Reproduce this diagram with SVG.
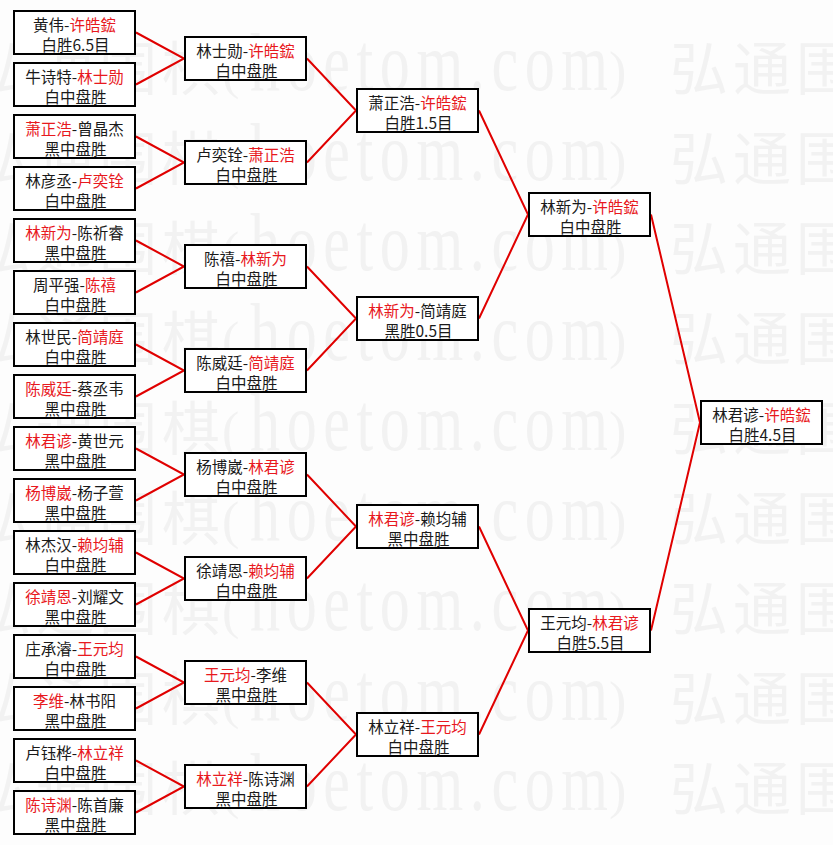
<svg xmlns="http://www.w3.org/2000/svg" xmlns:xlink="http://www.w3.org/1999/xlink" width="833" height="845" viewBox="0 0 833 845">
<style>
.b{fill:#fff;stroke:#000;stroke-width:2}
.t{font-family:"Noto Sans CJK SC","Noto Sans",sans-serif;font-size:15.5px;fill:#1a1a1a;text-anchor:middle}
.r{fill:#e8191e}
.c{stroke:#e00000;stroke-width:2;fill:none}
.wc{font-family:"Noto Sans CJK SC",sans-serif;font-size:58px;letter-spacing:5px;fill:#f2f2f2}
.wl{font-family:"Liberation Serif",serif;font-size:60px;fill:#f2f2f2}
.wp{font-family:"Liberation Serif",serif;font-size:52px;fill:#f2f2f2}
</style>
<defs>
<g id="wm">
<text class="wc" x="-27" y="0">弘通围棋</text>
<text class="wp" x="222" y="-2">(</text>
<text class="wl" transform="scale(1,1.38)" x="250" y="0" textLength="358" lengthAdjust="spacing">hoetom.com</text>
<text class="wp" x="609" y="-2">)</text>
<text class="wc" x="670" y="0">弘通围棋</text>
</g>
</defs>
<rect x="0" y="0" width="833" height="845" fill="#fdfdfd"/>
<g id="watermark">
<use xlink:href="#wm" href="#wm" y="90"/>
<use xlink:href="#wm" href="#wm" y="180"/>
<use xlink:href="#wm" href="#wm" y="270"/>
<use xlink:href="#wm" href="#wm" y="360"/>
<use xlink:href="#wm" href="#wm" y="450"/>
<use xlink:href="#wm" href="#wm" y="540"/>
<use xlink:href="#wm" href="#wm" y="630"/>
<use xlink:href="#wm" href="#wm" y="720"/>
<use xlink:href="#wm" href="#wm" y="810"/>
</g>
<g id="connectors">
<path class="c" d="M136 32.5L184 58.5L136 84.5"/>
<path class="c" d="M136 136.5L184 162.5L136 188.5"/>
<path class="c" d="M136 240.5L184 266.5L136 292.5"/>
<path class="c" d="M136 344.5L184 370.5L136 396.5"/>
<path class="c" d="M136 448.5L184 474.5L136 500.5"/>
<path class="c" d="M136 552.5L184 578.5L136 604.5"/>
<path class="c" d="M136 656.5L184 682.5L136 708.5"/>
<path class="c" d="M136 760.5L184 786.5L136 812.5"/>
<path class="c" d="M307 58.5L356 110.5L307 162.5"/>
<path class="c" d="M307 266.5L356 318.5L307 370.5"/>
<path class="c" d="M307 474.5L356 526.5L307 578.5"/>
<path class="c" d="M307 682.5L356 734.5L307 786.5"/>
<path class="c" d="M479 110.5L528 214.5L479 318.5"/>
<path class="c" d="M479 526.5L528 630.5L479 734.5"/>
<path class="c" d="M651 214.5L700 422.5L651 630.5"/>
</g>
<g id="r1-1"><rect class="b" x="14" y="11" width="121" height="43"/><text class="t" x="74.5" y="31">黄伟-<tspan class="r">许皓鋐</tspan></text><text class="t" x="75.5" y="51">白胜6.5目</text></g>
<g id="r1-2"><rect class="b" x="14" y="63" width="121" height="43"/><text class="t" x="74.5" y="83">牛诗特-<tspan class="r">林士勋</tspan></text><text class="t" x="75.5" y="103">白中盘胜</text></g>
<g id="r1-3"><rect class="b" x="14" y="115" width="121" height="43"/><text class="t" x="74.5" y="135"><tspan class="r">萧正浩</tspan>-曾晶杰</text><text class="t" x="75.5" y="155">黑中盘胜</text></g>
<g id="r1-4"><rect class="b" x="14" y="167" width="121" height="43"/><text class="t" x="74.5" y="187">林彦丞-<tspan class="r">卢奕铨</tspan></text><text class="t" x="75.5" y="207">白中盘胜</text></g>
<g id="r1-5"><rect class="b" x="14" y="219" width="121" height="43"/><text class="t" x="74.5" y="239"><tspan class="r">林新为</tspan>-陈祈睿</text><text class="t" x="75.5" y="259">黑中盘胜</text></g>
<g id="r1-6"><rect class="b" x="14" y="271" width="121" height="43"/><text class="t" x="74.5" y="291">周平强-<tspan class="r">陈禧</tspan></text><text class="t" x="75.5" y="311">白中盘胜</text></g>
<g id="r1-7"><rect class="b" x="14" y="323" width="121" height="43"/><text class="t" x="74.5" y="343">林世民-<tspan class="r">简靖庭</tspan></text><text class="t" x="75.5" y="363">白中盘胜</text></g>
<g id="r1-8"><rect class="b" x="14" y="375" width="121" height="43"/><text class="t" x="74.5" y="395"><tspan class="r">陈威廷</tspan>-蔡丞韦</text><text class="t" x="75.5" y="415">黑中盘胜</text></g>
<g id="r1-9"><rect class="b" x="14" y="427" width="121" height="43"/><text class="t" x="74.5" y="447"><tspan class="r">林君谚</tspan>-黄世元</text><text class="t" x="75.5" y="467">黑中盘胜</text></g>
<g id="r1-10"><rect class="b" x="14" y="479" width="121" height="43"/><text class="t" x="74.5" y="499"><tspan class="r">杨博崴</tspan>-杨子萱</text><text class="t" x="75.5" y="519">黑中盘胜</text></g>
<g id="r1-11"><rect class="b" x="14" y="531" width="121" height="43"/><text class="t" x="74.5" y="551">林杰汉-<tspan class="r">赖均辅</tspan></text><text class="t" x="75.5" y="571">白中盘胜</text></g>
<g id="r1-12"><rect class="b" x="14" y="583" width="121" height="43"/><text class="t" x="74.5" y="603"><tspan class="r">徐靖恩</tspan>-刘耀文</text><text class="t" x="75.5" y="623">黑中盘胜</text></g>
<g id="r1-13"><rect class="b" x="14" y="635" width="121" height="43"/><text class="t" x="74.5" y="655">庄承濬-<tspan class="r">王元均</tspan></text><text class="t" x="75.5" y="675">白中盘胜</text></g>
<g id="r1-14"><rect class="b" x="14" y="687" width="121" height="43"/><text class="t" x="74.5" y="707"><tspan class="r">李维</tspan>-林书阳</text><text class="t" x="75.5" y="727">黑中盘胜</text></g>
<g id="r1-15"><rect class="b" x="14" y="739" width="121" height="43"/><text class="t" x="74.5" y="759">卢钰桦-<tspan class="r">林立祥</tspan></text><text class="t" x="75.5" y="779">白中盘胜</text></g>
<g id="r1-16"><rect class="b" x="14" y="791" width="121" height="43"/><text class="t" x="74.5" y="811"><tspan class="r">陈诗渊</tspan>-陈首廉</text><text class="t" x="75.5" y="831">黑中盘胜</text></g>
<g id="r2-1"><rect class="b" x="185" y="37" width="121" height="43"/><text class="t" x="245.5" y="57">林士勋-<tspan class="r">许皓鋐</tspan></text><text class="t" x="246.5" y="77">白中盘胜</text></g>
<g id="r2-2"><rect class="b" x="185" y="141" width="121" height="43"/><text class="t" x="245.5" y="161">卢奕铨-<tspan class="r">萧正浩</tspan></text><text class="t" x="246.5" y="181">白中盘胜</text></g>
<g id="r2-3"><rect class="b" x="185" y="245" width="121" height="43"/><text class="t" x="245.5" y="265">陈禧-<tspan class="r">林新为</tspan></text><text class="t" x="246.5" y="285">白中盘胜</text></g>
<g id="r2-4"><rect class="b" x="185" y="349" width="121" height="43"/><text class="t" x="245.5" y="369">陈威廷-<tspan class="r">简靖庭</tspan></text><text class="t" x="246.5" y="389">白中盘胜</text></g>
<g id="r2-5"><rect class="b" x="185" y="453" width="121" height="43"/><text class="t" x="245.5" y="473">杨博崴-<tspan class="r">林君谚</tspan></text><text class="t" x="246.5" y="493">白中盘胜</text></g>
<g id="r2-6"><rect class="b" x="185" y="557" width="121" height="43"/><text class="t" x="245.5" y="577">徐靖恩-<tspan class="r">赖均辅</tspan></text><text class="t" x="246.5" y="597">白中盘胜</text></g>
<g id="r2-7"><rect class="b" x="185" y="661" width="121" height="43"/><text class="t" x="245.5" y="681"><tspan class="r">王元均</tspan>-李维</text><text class="t" x="246.5" y="701">黑中盘胜</text></g>
<g id="r2-8"><rect class="b" x="185" y="765" width="121" height="43"/><text class="t" x="245.5" y="785"><tspan class="r">林立祥</tspan>-陈诗渊</text><text class="t" x="246.5" y="805">黑中盘胜</text></g>
<g id="r3-1"><rect class="b" x="357" y="89" width="121" height="43"/><text class="t" x="417.5" y="109">萧正浩-<tspan class="r">许皓鋐</tspan></text><text class="t" x="418.5" y="129">白胜1.5目</text></g>
<g id="r3-2"><rect class="b" x="357" y="297" width="121" height="43"/><text class="t" x="417.5" y="317"><tspan class="r">林新为</tspan>-简靖庭</text><text class="t" x="418.5" y="337">黑胜0.5目</text></g>
<g id="r3-3"><rect class="b" x="357" y="505" width="121" height="43"/><text class="t" x="417.5" y="525"><tspan class="r">林君谚</tspan>-赖均辅</text><text class="t" x="418.5" y="545">黑中盘胜</text></g>
<g id="r3-4"><rect class="b" x="357" y="713" width="121" height="43"/><text class="t" x="417.5" y="733">林立祥-<tspan class="r">王元均</tspan></text><text class="t" x="418.5" y="753">白中盘胜</text></g>
<g id="r4-1"><rect class="b" x="529" y="193" width="121" height="43"/><text class="t" x="589.5" y="213">林新为-<tspan class="r">许皓鋐</tspan></text><text class="t" x="590.5" y="233">白中盘胜</text></g>
<g id="r4-2"><rect class="b" x="529" y="609" width="121" height="43"/><text class="t" x="589.5" y="629">王元均-<tspan class="r">林君谚</tspan></text><text class="t" x="590.5" y="649">白胜5.5目</text></g>
<g id="final"><rect class="b" x="701" y="401" width="121" height="43"/><text class="t" x="761.5" y="421">林君谚-<tspan class="r">许皓鋐</tspan></text><text class="t" x="762.5" y="441">白胜4.5目</text></g>
</svg>
